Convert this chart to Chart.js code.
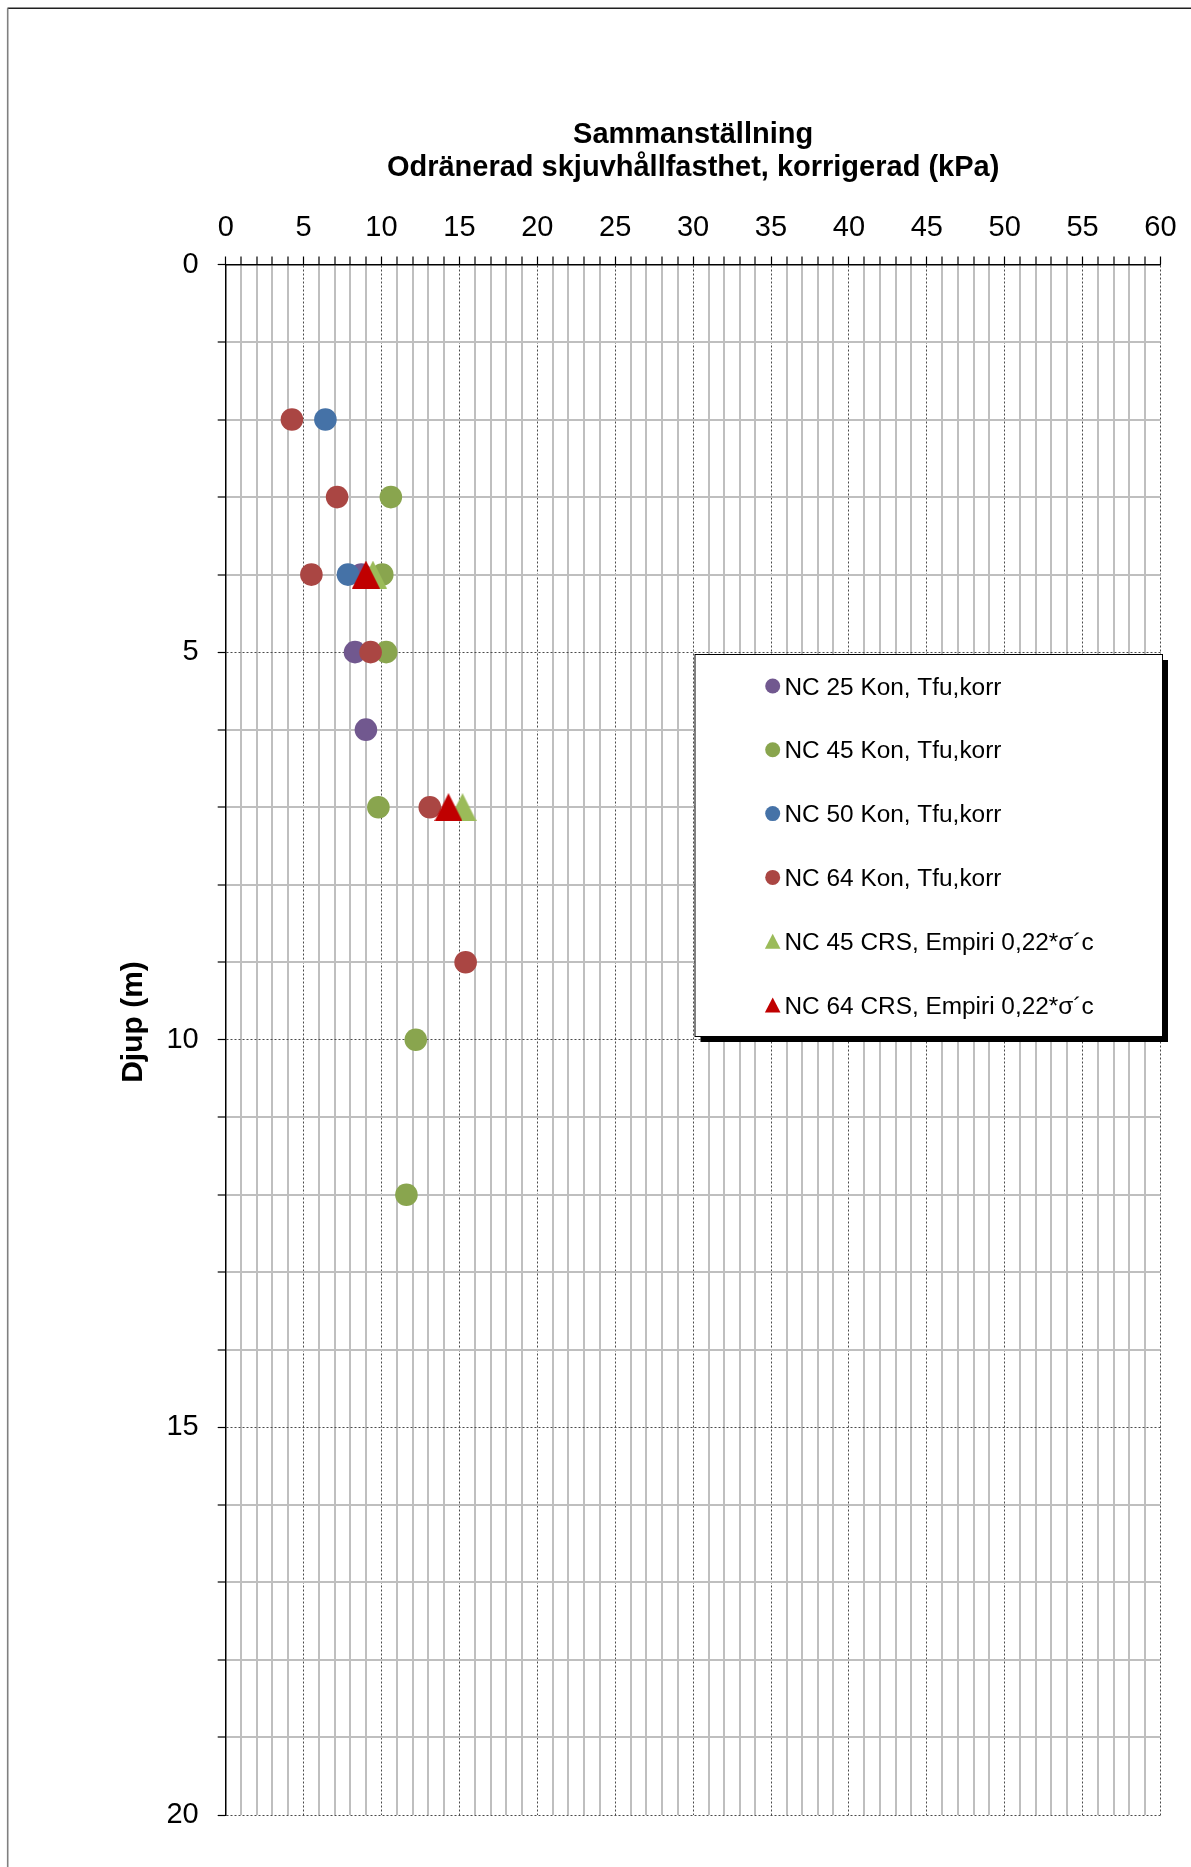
<!DOCTYPE html>
<html>
<head>
<meta charset="utf-8">
<script src="https://cdn.jsdelivr.net/npm/chart.js@4.4.1/dist/chart.umd.min.js"></script>
<style>
  html, body { margin: 0; padding: 0; background: #fff; }
  canvas { display: block; }
</style>
</head>
<body>
<canvas id="chart" width="1191" height="1867"></canvas>
<script>
// Odränerad skjuvhållfasthet, korrigerad (kPa) mot djup (m)
const titleLines = ['Sammanställning', 'Odränerad skjuvhållfasthet, korrigerad (kPa)'];
const yAxisTitle = 'Djup (m)';

const seriesLabels = [
  'NC 25 Kon, Tfu,korr',
  'NC 45 Kon, Tfu,korr',
  'NC 50 Kon, Tfu,korr',
  'NC 64 Kon, Tfu,korr',
  'NC 45 CRS, Empiri 0,22*σ´c',
  'NC 64 CRS, Empiri 0,22*σ´c'
];

// kPa values and depths (m) for each series
const nc25Tfu  = [8.7, 8.3, 9.0];
const nc25Djup = [4, 5, 6];

const nc45Tfu  = [10.6, 10.05, 10.3, 9.8, 12.2, 11.6];
const nc45Djup = [3, 4, 5, 7, 10, 12];

const nc50Tfu  = [6.4, 7.85];
const nc50Djup = [2, 4];

const nc64Tfu  = [4.25, 7.15, 5.5, 9.3, 13.1, 15.4];
const nc64Djup = [2, 3, 4, 5, 7, 9];

const crs45Tfu  = [9.45, 15.2];
const crs45Djup = [4, 7];

const crs64Tfu  = [9.0, 14.3];
const crs64Djup = [4, 7];

// tick labels
const xTickLabels = ['0', '5', '10', '15', '20', '25', '30', '35', '40', '45', '50', '55', '60'];
const yTickLabels = ['0', '5', '10', '15', '20'];

const FONT = "'Liberation Sans', Arial, sans-serif";
Chart.defaults.font.family = FONT;
Chart.defaults.color = '#000';

function points(xs, ys) {
  return xs.map((x, i) => ({ x: x, y: ys[i] }));
}

// Triangle marker whose bounding box is centred on the data point
function triangleMarker(color, w, h) {
  const c = document.createElement('canvas');
  c.width = w; c.height = h;
  const g = c.getContext('2d');
  g.fillStyle = color;
  g.beginPath();
  g.moveTo(w / 2, 0);
  g.lineTo(w, h);
  g.lineTo(0, h);
  g.closePath();
  g.fill();
  return c;
}

const COLORS = ['#71588F', '#89A54E', '#4572A7', '#AA4643', '#9BBB59', '#C00000'];
const SERIES_COUNT = seriesLabels.length;

// later series are painted on top of earlier ones
function circleSet(i, xs, ys) {
  return {
    label: seriesLabels[i],
    data: points(xs, ys),
    backgroundColor: COLORS[i],
    borderWidth: 0,
    pointStyle: 'circle',
    pointRadius: 11.3,
    order: SERIES_COUNT - i,
    markerKind: 'circle'
  };
}
function triangleSet(i, xs, ys) {
  return {
    label: seriesLabels[i],
    data: points(xs, ys),
    backgroundColor: COLORS[i],
    borderWidth: 0,
    pointStyle: triangleMarker(COLORS[i], 28, 28),
    pointRadius: 14,
    order: SERIES_COUNT - i,
    markerKind: 'triangle'
  };
}

const datasets = [
  circleSet(0, nc25Tfu, nc25Djup),
  circleSet(1, nc45Tfu, nc45Djup),
  circleSet(2, nc50Tfu, nc50Djup),
  circleSet(3, nc64Tfu, nc64Djup),
  triangleSet(4, crs45Tfu, crs45Djup),
  triangleSet(5, crs64Tfu, crs64Djup)
];

const isMajor = (ctx) => ctx && ctx.tick && Math.round(ctx.tick.value) % 5 === 0;

const gridOpts = {
  color: (ctx) => isMajor(ctx) ? '#4a4a4a' : '#bfbfbf',
  lineWidth: (ctx) => isMajor(ctx) ? 1 : 2,
  drawTicks: true,
  tickLength: 8,
  tickColor: '#000',
  tickWidth: 1.2
};
const borderOpts = {
  display: true,
  color: '#000',
  width: 1.5,
  dash: (ctx) => isMajor(ctx) ? [2, 2] : []
};

// Chart frame, title, rotated axis title and boxed legend
const decorations = {
  id: 'decorations',
  beforeDraw(chart) {
    const ctx = chart.ctx;
    ctx.save();
    ctx.fillStyle = '#fff';
    ctx.fillRect(0, 0, chart.width, chart.height);
    ctx.lineWidth = 1.6;
    ctx.strokeStyle = '#202020';
    ctx.beginPath(); ctx.moveTo(7.5, 8.3); ctx.lineTo(chart.width, 8.3); ctx.stroke();
    ctx.strokeStyle = '#808080';
    ctx.beginPath(); ctx.moveTo(7.7, 8.3); ctx.lineTo(7.7, chart.height); ctx.stroke();
    ctx.restore();
  },
  afterDraw(chart) {
    const ctx = chart.ctx;
    const area = chart.chartArea;
    const cx = (area.left + area.right) / 2;
    ctx.save();
    ctx.fillStyle = '#000';
    ctx.textAlign = 'center';
    ctx.textBaseline = 'alphabetic';
    ctx.font = 'bold 29px ' + FONT;
    ctx.fillText(titleLines[0], cx, 143);
    ctx.fillText(titleLines[1], cx, 176);

    ctx.save();
    ctx.font = 'bold 30px ' + FONT;
    ctx.translate(134, 1022);
    ctx.rotate(-Math.PI / 2);
    ctx.textBaseline = 'middle';
    ctx.fillText(yAxisTitle, 0, 0);
    ctx.restore();

    // legend
    const box = { left: 695, top: 654.5, right: 1162.5, bottom: 1036.5, shadow: 5.5 };
    ctx.fillStyle = '#000';
    ctx.fillRect(box.left + box.shadow, box.top + box.shadow, box.right - box.left, box.bottom - box.top);
    ctx.fillStyle = '#fff';
    ctx.fillRect(box.left, box.top, box.right - box.left, box.bottom - box.top);
    ctx.strokeStyle = '#000';
    ctx.lineWidth = 1;
    ctx.strokeRect(box.left, box.top, box.right - box.left, box.bottom - box.top);

    ctx.font = '24.4px ' + FONT;
    ctx.textAlign = 'left';
    ctx.textBaseline = 'alphabetic';
    const firstRow = 686, rowGap = 63.8, markerX = 772.7, textX = 784.5;
    chart.data.datasets.forEach((ds, i) => {
      const y = firstRow + i * rowGap;
      ctx.fillStyle = ds.backgroundColor;
      ctx.beginPath();
      if (ds.markerKind === 'triangle') {
        ctx.moveTo(markerX, y - 7.5);
        ctx.lineTo(markerX + 7.8, y + 7.5);
        ctx.lineTo(markerX - 7.8, y + 7.5);
        ctx.closePath();
      } else {
        ctx.arc(markerX, y, 7.5, 0, Math.PI * 2);
      }
      ctx.fill();
      ctx.fillStyle = '#000';
      ctx.fillText(ds.label, textX, y + 8.6);
    });
    ctx.restore();
  }
};

new Chart(document.getElementById('chart'), {
  type: 'scatter',
  data: { datasets: datasets },
  options: {
    responsive: false,
    animation: false,
    events: [],
    layout: { padding: { left: 0, top: 0, right: 30.5, bottom: 52 } },
    plugins: {
      legend: { display: false },
      title: { display: false },
      tooltip: { enabled: false }
    },
    scales: {
      x: {
        type: 'linear',
        position: 'top',
        min: 0,
        max: 60,
        afterFit: (scale) => { scale.height = 264.5; },
        ticks: {
          stepSize: 1,
          autoSkip: false,
          maxRotation: 0,
          padding: 11,
          font: { size: 29 },
          color: '#000',
          callback: (v) => {
            const i = xTickLabels.indexOf(String(v));
            return i >= 0 ? xTickLabels[i] : '';
          }
        },
        grid: gridOpts,
        border: borderOpts
      },
      y: {
        type: 'linear',
        position: 'left',
        reverse: true,
        min: 0,
        max: 20,
        afterFit: (scale) => { scale.width = 225.7; },
        ticks: {
          stepSize: 1,
          autoSkip: false,
          padding: 19,
          font: { size: 29 },
          color: '#000',
          callback: (v) => {
            const i = yTickLabels.indexOf(String(v));
            return i >= 0 ? yTickLabels[i] : '';
          }
        },
        grid: gridOpts,
        border: borderOpts
      }
    }
  },
  plugins: [decorations]
});
</script>
</body>
</html>
